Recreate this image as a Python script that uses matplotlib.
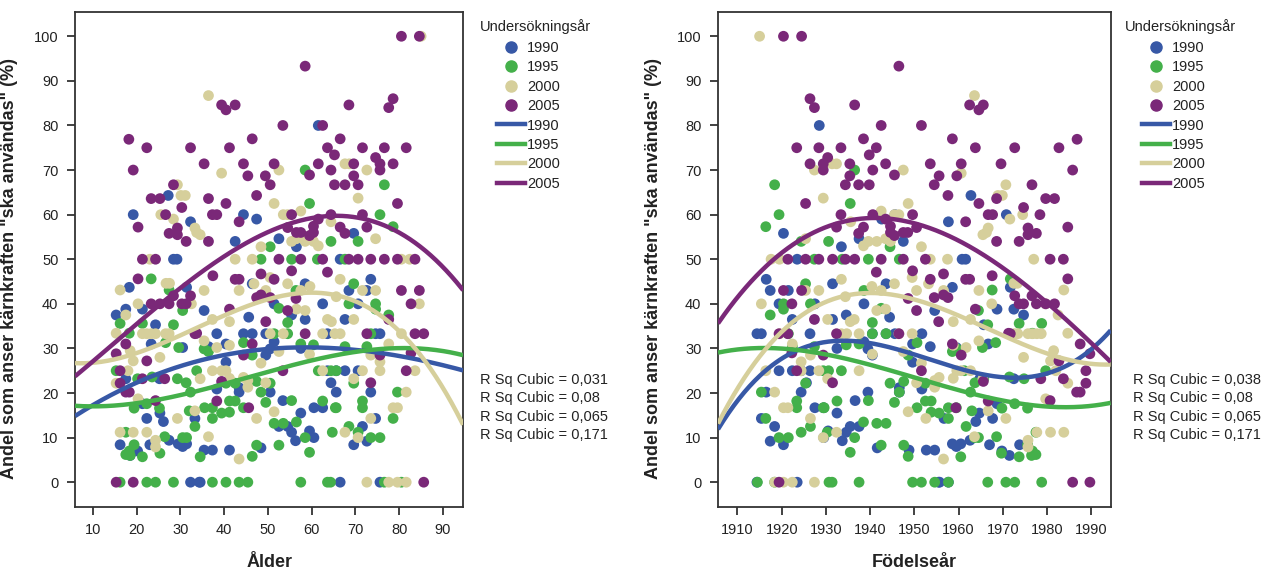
import numpy as np
import matplotlib
matplotlib.use("Agg")
import matplotlib.pyplot as plt
from matplotlib.lines import Line2D

plt.rcParams["font.family"] = ["Liberation Sans", "DejaVu Sans"]

years = [1990, 1995, 2000, 2005]
colors = ["#3758A6", "#44B04A", "#D6CF9B", "#7A2878"]

# (ålder, andel %) per undersökningsår, avläst ur vänstra diagrammet
age_1990 = [27.2, 19.2, 32.3, 28.4, 29.2, 61.5, 44.4, 47.4, 42.5, 52.5, 56.5, 69.6, 66.5,
            18.3, 31.4, 17.5, 15.3, 21.3, 24.3, 23.3, 30.5, 25.2, 17.5, 21.3, 25.3, 22.3,
            26.1, 33.3, 16.2, 23.0, 27.4, 29.5, 30.5, 31.4, 20.2, 18.5, 32.3, 34.3,
            46.4, 58.5, 35.4, 51.4, 55.4, 58.5, 62.5, 45.6, 38.3, 44.4, 46.4, 49.5, 63.6,
            40.4, 36.4, 49.5, 51.4, 50.5, 57.5, 40.4, 63.6, 38.3, 43.4, 43.4, 50.5, 53.4,
            57.5, 60.5, 62.5, 52.5, 54.5, 55.4, 56.3, 59.5, 60.5, 35.4, 37.3, 41.2, 48.4, 34.5,
            73.5, 68.5, 72.6, 70.6, 67.6, 74.6, 75.6, 65.6, 67.6, 70.6, 64.4, 65.6, 73.5,
            74.6, 71.6, 69.6, 72.6, 66.5, 75.6]
val_1990 = [64.3, 60, 58.4, 50, 50, 80, 60, 59, 54, 54.6, 52.8, 55.8, 50,
            43.7, 43.7, 38.8, 37.5, 38.8, 35.3, 31, 30.2, 23.2, 23.2, 17.6, 15.5, 14.3,
            13.6, 14.3, 8.4, 8.4, 9.4, 8.6, 8, 8.6, 7, 6, 0, 0,
            44.5, 44.5, 38.5, 40, 37.5, 36.5, 40, 37, 33.3, 33.3, 33.3, 33.3, 33.3,
            31, 30.4, 28.5, 31.5, 29.9, 30, 26.9, 25, 20.9, 21.2, 20.2, 20.2, 18.3,
            15.5, 16.7, 16.7, 12.5, 12.5, 11.2, 9.3, 11.5, 10, 7.2, 7.2, 7.2, 7.7, 0,
            45.5, 43, 43, 40, 36.5, 33.3, 33.3, 25, 25, 25, 22.3, 20.2, 20.2,
            14.3, 12.5, 8.4, 9.2, 0, 0]

age_1995 = [58.5, 59.5, 50.5, 64.4, 48.4, 55.4, 61.3, 76.6, 75.6, 78.6, 70.6, 67.6,
            23.3, 27.4, 30.5, 16.2, 21.3, 28.4, 18.3, 26.6, 29.6, 15.3, 20.2, 23.5, 29.3,
            31.3, 32.3, 19.4, 22.3, 25.2, 32.0, 33.3, 17.5, 19.4, 26.4, 30.5, 31.4, 18.3,
            17.5, 18.5, 21.3, 25.3, 16.2, 22.3, 24.3, 28.4,
            56.4, 52.5, 54.5, 51.4, 54.5, 44.4, 35.4, 36.4, 46.4, 57.5, 60.4, 33.7, 61.5,
            64.4, 40.4, 42.5, 47.4, 50.5, 48.4, 49.5, 35.5, 37.3, 41.2, 42.5, 44.4, 39.4,
            41.2, 37.3, 55.4, 62.5, 65.4, 51.4, 53.5, 56.5, 58.5, 64.7, 59.5, 34.5, 46.4,
            47.4, 52.5, 37.3, 40.4, 43.4, 45.4, 57.5, 63.6,
            69.6, 68.5, 74.6, 74.6, 77.6, 73.5, 67.6, 72.6, 65.6, 69.6, 79.6, 71.6, 71.6,
            65.6, 78.6, 68.5, 70.6, 73.5, 75.6, 64.3, 76.6, 80.5]
val_1995 = [70, 62.5, 52.8, 54, 50, 50, 50, 66.7, 60, 57.3, 54, 50,
            45.6, 43.1, 38.5, 35.6, 35.6, 35.3, 33.4, 31.3, 30.2, 25, 23.2, 23.6, 23.2,
            22.3, 20.2, 16.6, 17.6, 16.6, 16, 12.5, 11.2, 8.4, 10.2, 10, 10, 7,
            6.2, 6, 5.7, 6.5, 0, 0, 0, 0,
            43, 39, 35.8, 33.3, 33.3, 31.3, 29.9, 29.3, 28.5, 31, 30.8, 25, 25,
            25, 22.2, 22.2, 22.6, 22.2, 20.2, 17.9, 16.7, 16.7, 18.2, 18.2, 16.7, 15.5,
            15.7, 14.3, 18.3, 18.2, 16.7, 13.2, 13.2, 13.5, 10, 11.2, 6.7, 5.7, 5.8,
            8.3, 8.3, 0, 0, 0, 0, 0, 0,
            44.5, 40, 40, 38.8, 37.5, 33.3, 30.4, 30.4, 25, 22.2, 20.2, 18.2, 16.7,
            16.7, 14.3, 12.5, 11.2, 10, 10, 0, 0, 0]

age_2000 = [29.3, 30.1, 31.1, 25.5, 28.4, 33.3, 23.0, 36.4, 52.5, 39.4, 51.4, 53.5,
            54.5, 57.5, 33.7, 34.5, 55.4, 56.5, 58.5, 60.4, 61.5, 48.4, 42.5, 46.4,
            67.6, 68.6, 72.6, 70.6, 64.4, 74.6, 80.5, 82.4, 85.0,
            16.2, 26.7, 27.5, 20.3, 32.5, 17.5, 15.3, 21.3, 22.3, 23.3, 24.3, 26.6, 27.4,
            18.5, 25.3, 19.2, 18.0, 15.3, 20.3, 29.3, 33.3, 16.2, 19.2, 22.3, 24.3, 24.3,
            35.4, 43.4, 46.8, 50.5, 54.5, 59.6, 57.5, 49.5, 56.5, 58.5, 63.6, 64.5, 37.3,
            41.2, 50.5, 53.5, 62.5, 65.3, 35.4, 38.3, 41.2, 52.5, 59.5, 48.4, 37.3, 39.4,
            40.4, 62.5, 34.5, 41.2, 44.4, 45.4, 45.4, 49.5, 51.4, 47.4, 36.4, 43.4,
            66.5, 71.6, 74.6, 65.6, 84.6, 69.6, 66.5, 80.5, 77.6, 73.5, 75.6, 71.6, 75.6,
            83.6, 69.6, 81.6, 78.6, 79.6, 73.5, 67.6, 70.6, 72.6, 77.6, 79.6, 81.6]
val_2000 = [66.7, 64.3, 64.3, 60, 59, 57, 50, 86.7, 70, 69.3, 62.5, 60,
            60, 60.8, 56, 55.5, 54, 54.6, 54, 54, 53, 52.8, 50, 50,
            71.4, 71.4, 70, 63.7, 58.4, 54.6, 50, 50, 100,
            43.1, 44.6, 44.6, 40, 40, 37.5, 33.4, 33.3, 33.3, 33.3, 33.3, 33.3, 33.3,
            29.5, 28, 27.2, 25, 22.2, 18.7, 14.3, 16, 11.2, 11.2, 11.2, 9.4, 7.9,
            43, 43, 44.5, 45.9, 44.5, 43.9, 43, 43, 38.8, 38.5, 36.5, 36, 36.5,
            36, 33.3, 33.3, 33.3, 33.3, 31.7, 30.2, 30.7, 29.3, 28.7, 26.7, 25, 25,
            25, 25, 23.2, 23.3, 23.5, 22.8, 21.3, 22.3, 15.8, 14.3, 10.2, 5.2,
            45.5, 43, 43, 41.6, 40, 36.5, 33.3, 33.3, 31, 28.5, 27, 25, 25,
            25, 23.2, 20.2, 16.7, 16.7, 14.3, 11.2, 10, 0, 0, 0, 0]

age_2005 = [18.2, 22.3, 32.3, 19.2, 28.4, 23.3, 25.3, 30.3, 26.6, 20.3, 27.4, 29.3, 29.3,
            31.3, 21.3, 24.3,
            58.5, 39.4, 40.4, 42.5, 53.4, 62.5, 46.4, 41.2, 63.6, 65.2, 35.4, 44.4, 51.4,
            59.5, 61.5, 64.4, 45.4, 49.4, 50.5, 65.2, 36.4, 40.4, 47.4, 37.3, 38.3, 43.4,
            55.4, 64.4, 61.5, 54.5, 56.5, 57.5, 60.4, 60.4, 59.5, 36.4, 52.5, 57.5, 62.5,
            80.5, 84.6, 68.5, 78.6, 77.6, 66.5, 71.6, 76.6, 81.6, 74.6, 75.6, 75.6, 78.6,
            69.6, 69.6, 67.6, 70.6, 79.6, 71.6, 66.5, 67.6, 72.6, 68.5, 70.6, 73.5, 76.6,
            79.6, 83.6,
            20.3, 28.4, 32.3, 23.3, 25.3, 27.4, 30.3, 31.3, 33.3, 17.5, 15.3, 22.3, 16.2,
            21.3, 26.4, 16.2, 17.5, 18.3, 24.3, 15.3, 19.2,
            37.4, 42.5, 43.4, 48.4, 51.4, 55.4, 63.6, 47.4, 48.4, 50.5, 56.4, 41.2, 54.5,
            49.5, 33.7, 58.5, 46.4, 44.4, 53.4, 39.4, 38.3, 45.6,
            80.5, 84.6, 82.7, 77.6, 72.6, 83.6, 85.6, 75.6, 82.7, 81.6, 73.5, 85.6]
val_2005 = [76.9, 75, 75, 70, 66.7, 63.6, 63.6, 61.6, 60, 57.2, 55.8, 57, 55.5,
            54, 50, 50,
            93.3, 84.6, 83.5, 84.6, 80, 80, 77, 75, 75, 73.4, 71.4, 71.4, 71.4,
            68.9, 71.4, 70, 68.7, 68.7, 66.7, 66.7, 63.6, 62.5, 64.3, 60, 60, 58.4,
            60, 60, 59, 57.1, 56, 56, 57.4, 56, 55.3, 54, 50, 50, 50,
            100, 100, 84.6, 86, 84, 77, 75, 75, 75, 72.8, 71.4, 70, 71.4,
            71.4, 68.7, 66.7, 66.7, 62.5, 60, 57.2, 55.8, 57.2, 50, 50, 50, 50,
            50, 50,
            45.6, 41.8, 41.8, 40, 40, 40, 40, 40, 33.3, 31, 28.8, 27.2, 25,
            23.2, 23.2, 22.2, 20.2, 20.2, 18.3, 0, 0,
            46.3, 45.5, 45.5, 46.7, 45.5, 47.4, 47.1, 41.4, 42, 41.4, 41.2, 38.8, 38.5,
            36, 33.4, 33.3, 31, 28.5, 25, 22.6, 18.2, 16.7,
            43, 43, 40, 36.5, 33.3, 33.3, 33.3, 28.5, 29, 25, 22.3, 0]

ages = [age_1990, age_1995, age_2000, age_2005]
vals = [val_1990, val_1995, val_2000, val_2005]

# kubiska kurvor, avlästa punkter längs varje kurva
curve_age_x = [6, 20, 34.5, 49, 64.5, 79.5, 94.5]
curve_age_y = [
    [15.1, 21.8, 27.6, 30.0, 30.0, 28.2, 25.2],
    [17.0, 18.1, 20.3, 24.4, 28.5, 30.0, 28.5],
    [26.5, 29.3, 35.3, 40.0, 42.0, 35.0, 12.8],
    [23.7, 35.6, 47.6, 54.3, 60.5, 56.2, 43.1],
]
curve_birth_x = [
    [1905.5, 1919.6, 1933.2, 1942.2, 1955, 1970.1, 1975.4, 1985.2, 1993.9],
    [1905.5, 1915.8, 1930.2, 1942.2, 1955, 1970.1, 1981.4, 1993.9],
    [1905.5, 1919.6, 1934.7, 1940.7, 1955, 1970.1, 1981.4, 1993.9],
    [1905.5, 1919.6, 1940, 1958.8, 1970.1, 1981.4, 1993.9],
]
curve_birth_y = [
    [12.0, 26.7, 32.1, 30.8, 27.5, 23.4, 23.0, 26.7, 33.6],
    [29.1, 29.9, 29.0, 25.3, 22.3, 18.2, 16.9, 17.7],
    [12.6, 34.2, 41.6, 42.0, 39.4, 32.7, 29.0, 26.1],
    [36.0, 49.9, 59.8, 56.1, 46.8, 38.6, 27.9],
]

rsq_age = ["0,031", "0,08", "0,065", "0,171"]
rsq_birth = ["0,038", "0,08", "0,065", "0,171"]

ylabel = 'Andel som anser kärnkraften "ska användas" (%)'
txt_color = "#222222"

fig = plt.figure(figsize=(12.74, 5.70), dpi=100)
ax1 = fig.add_axes([0.0589, 0.111, 0.3046, 0.8684])
ax2 = fig.add_axes([0.5636, 0.111, 0.3082, 0.8684])


def draw_panel(ax, xs, curve_x, curve_y, xlim, xticks, xlabel, rsq, tx, rx, lx, ylx):
    for x, v, c in zip(xs, vals, colors):
        ax.scatter(x, v, s=60, color=c, edgecolors="none", zorder=2)
    xx = np.linspace(xlim[0], xlim[1], 300)
    for cx, cy, c in zip(curve_x, curve_y, colors):
        p = np.polynomial.Polynomial.fit(cx, cy, 3)
        ax.plot(xx, p(xx), color=c, lw=3.2, zorder=3, solid_capstyle="butt")
    ax.set_xlim(*xlim)
    ax.set_ylim(-5.5, 105.5)
    ax.set_xticks(xticks)
    ax.set_yticks(range(0, 101, 10))
    ax.tick_params(direction="out", length=6, width=1.3, colors="#333333",
                   labelsize=10.5, labelcolor=txt_color, pad=6)
    for sp in ax.spines.values():
        sp.set_color("#333333")
        sp.set_linewidth(1.3)
    ax.set_xlabel(xlabel, fontsize=13, fontweight="bold", color=txt_color, labelpad=12)
    ax.set_ylabel(ylabel, fontsize=13, fontweight="bold", color=txt_color)
    ax.yaxis.set_label_coords(ylx, 0.482)

    ax.text(tx, 0.971, "Undersökningsår", transform=ax.transAxes, fontsize=10.5,
            color=txt_color, va="center", ha="left")
    handles = [Line2D([], [], marker="o", ls="", markersize=8, color=c) for c in colors]
    handles += [Line2D([], [], lw=3.2, color=c) for c in colors]
    labels = [str(y) for y in years] * 2
    leg = ax.legend(handles, labels, loc="upper left", bbox_to_anchor=(lx, 0.941),
                    frameon=False, fontsize=10.5, labelspacing=0.37, handlelength=1.9,
                    handletextpad=0.15, borderaxespad=0, borderpad=0)
    for t in leg.get_texts():
        t.set_color(txt_color)

    for i, r in enumerate(rsq):
        ax.text(rx, 0.256 - i * 0.0372, f"R Sq Cubic = {r}", transform=ax.transAxes,
                fontsize=10.5, color=txt_color, va="center", ha="left")


draw_panel(ax1, ages, [curve_age_x] * 4, curve_age_y, (5.9, 94.6),
           range(10, 91, 10), "Ålder", rsq_age, 1.044, 1.044, 1.088, -0.147)

birth = [[y - a for a in ag] for y, ag in zip(years, ages)]
draw_panel(ax2, birth, curve_birth_x, curve_birth_y, (1905.6, 1994.4),
           range(1910, 1991, 10), "Födelseår", rsq_birth, 1.036, 1.057, 1.08, -0.143)

fig.savefig("out.png", dpi=100)
